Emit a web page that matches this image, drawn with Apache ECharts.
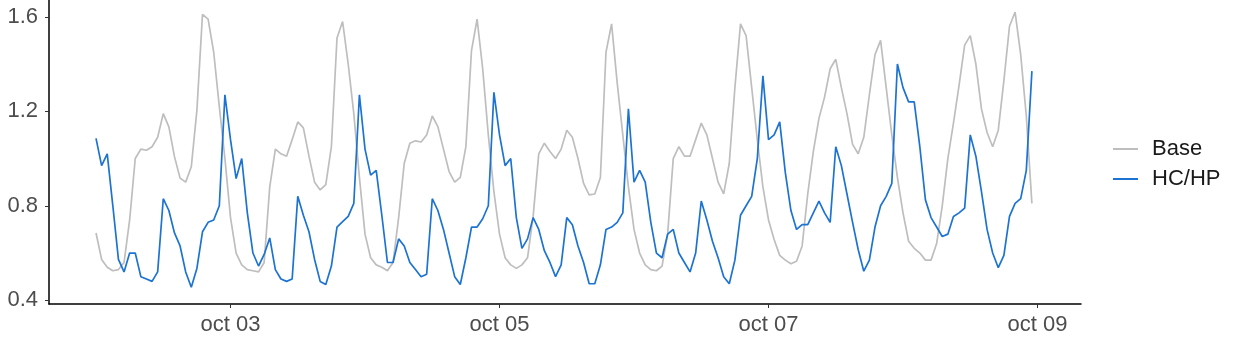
<!DOCTYPE html>
<html>
<head>
<meta charset="utf-8">
<script src="https://cdn.jsdelivr.net/npm/echarts@6/dist/echarts.min.js"></script>
<style>
  html, body { margin: 0; padding: 0; background: #fff; }
  #chart { width: 1245px; height: 344px; }
</style>
</head>
<body>
<div id="chart"></div>
<script>
// hourly values, hour 0 = oct 02 00:00
var baseValues = [
    0.685, 0.573, 0.54, 0.525, 0.53, 0.56, 0.74, 1.0, 1.04, 1.035, 1.05, 1.09, 1.19, 1.134, 1.008, 0.917, 0.90, 0.965, 1.204, 1.61, 1.59, 1.45, 1.22, 1.0,
    0.75, 0.60, 0.55, 0.53, 0.525, 0.52, 0.56, 0.88, 1.04, 1.02, 1.01, 1.08, 1.155, 1.13, 1.01, 0.90, 0.867, 0.89, 1.05, 1.51, 1.58, 1.40, 1.19, 0.92,
    0.68, 0.58, 0.55, 0.54, 0.525, 0.56, 0.75, 0.98, 1.065, 1.075, 1.07, 1.10, 1.18, 1.135, 1.04, 0.945, 0.90, 0.92, 1.05, 1.457, 1.59, 1.38, 1.10, 0.86,
    0.68, 0.58, 0.55, 0.535, 0.55, 0.58, 0.755, 1.02, 1.065, 1.03, 1.0, 1.04, 1.12, 1.09, 1.0, 0.895, 0.846, 0.85, 0.92, 1.45, 1.57, 1.32, 1.10, 0.88,
    0.70, 0.60, 0.55, 0.53, 0.525, 0.545, 0.68, 1.0, 1.05, 1.01, 1.01, 1.08, 1.15, 1.10, 1.0, 0.90, 0.85, 0.98, 1.30, 1.57, 1.52, 1.30, 1.08, 0.88,
    0.74, 0.657, 0.59, 0.57, 0.555, 0.565, 0.63, 0.85, 1.03, 1.17, 1.26, 1.38, 1.42, 1.30, 1.19, 1.06, 1.02, 1.09, 1.27, 1.44, 1.50, 1.30, 1.10, 0.92,
    0.77, 0.65, 0.62, 0.60, 0.57, 0.57, 0.64, 0.80, 1.0, 1.15, 1.31, 1.48, 1.52, 1.40, 1.21, 1.11, 1.05, 1.12, 1.33, 1.56, 1.62, 1.44, 1.18, 0.81
];
var hchpValues = [
    1.085, 0.97, 1.02, 0.80, 0.573, 0.52, 0.60, 0.60, 0.50, 0.49, 0.48, 0.52, 0.83, 0.78, 0.685, 0.63, 0.52, 0.455, 0.535, 0.69, 0.73, 0.74, 0.80, 1.27,
    1.08, 0.915, 1.0, 0.77, 0.60, 0.545, 0.594, 0.664, 0.53, 0.49, 0.48, 0.49, 0.84, 0.76, 0.69, 0.573, 0.48, 0.467, 0.545, 0.71, 0.733, 0.755, 0.81, 1.27,
    1.04, 0.93, 0.95, 0.76, 0.56, 0.56, 0.66, 0.63, 0.56, 0.53, 0.50, 0.51, 0.83, 0.78, 0.70, 0.60, 0.50, 0.467, 0.58, 0.71, 0.71, 0.745, 0.80, 1.28,
    1.10, 0.97, 1.0, 0.75, 0.62, 0.66, 0.75, 0.70, 0.61, 0.56, 0.50, 0.55, 0.75, 0.72, 0.63, 0.56, 0.47, 0.47, 0.55, 0.70, 0.71, 0.73, 0.77, 1.21,
    0.90, 0.95, 0.90, 0.73, 0.60, 0.58, 0.68, 0.70, 0.60, 0.56, 0.52, 0.60, 0.82, 0.74, 0.65, 0.58, 0.50, 0.47, 0.57, 0.76, 0.80, 0.84, 1.0, 1.35,
    1.08, 1.10, 1.155, 0.94, 0.78, 0.70, 0.72, 0.72, 0.77, 0.82, 0.77, 0.73, 1.05, 0.97, 0.85, 0.73, 0.615, 0.523, 0.57, 0.71, 0.80, 0.84, 0.895, 1.40,
    1.30, 1.24, 1.24, 1.05, 0.825, 0.75, 0.71, 0.67, 0.68, 0.755, 0.77, 0.79, 1.10, 1.01, 0.86, 0.70, 0.60, 0.538, 0.59, 0.755, 0.81, 0.83, 0.95, 1.37
];
var seriesNames = ['Base', 'HC/HP'];
var seriesColors = ['#BEBEBE', '#1C73D2'];
var xTickHours = [24, 72, 120, 168];
var xTickLabels = ['oct 03', 'oct 05', 'oct 07', 'oct 09'];
var yTicks = [0.4, 0.8, 1.2, 1.6];

function toPoints(vals) {
    return vals.map(function (v, i) { return [i, v]; });
}

var chart = echarts.init(document.getElementById('chart'));

var option = {
    animation: false,
    grid: { left: 49, right: 164, top: 0, bottom: 40 },
    legend: {
        orient: 'vertical',
        left: 1113,
        top: 138,
        padding: 0,
        icon: 'rect',
        itemWidth: 25,
        itemHeight: 2,
        itemGap: 8,
        textStyle: { fontSize: 22, color: '#1a1a1a', fontFamily: 'Liberation Sans', padding: [0, 0, 0, 9] },
        data: seriesNames
    },
    xAxis: {
        type: 'value',
        min: -8.39,
        max: 175.76,
        splitLine: { show: false },
        axisLine: { onZero: false, lineStyle: { color: '#000', width: 1.5 } },
        axisTick: { customValues: xTickHours, length: 4, lineStyle: { color: '#333' } },
        axisLabel: {
            customValues: xTickHours,
            margin: 10,
            fontSize: 22,
            color: '#4d4d4d',
            fontFamily: 'Liberation Sans',
            formatter: function (v) { return xTickLabels[xTickHours.indexOf(v)]; }
        }
    },
    yAxis: {
        type: 'value',
        min: 0.3843,
        max: 1.671,
        splitLine: { show: false },
        axisLine: { show: true, onZero: false, lineStyle: { color: '#000', width: 1.5 } },
        axisTick: { show: true, customValues: yTicks, length: 4, lineStyle: { color: '#333' } },
        axisLabel: {
            customValues: yTicks,
            margin: 11,
            fontSize: 22,
            color: '#4d4d4d',
            fontFamily: 'Liberation Sans',
            formatter: function (v) { return v.toFixed(1); }
        }
    },
    series: [
        {
            name: seriesNames[0],
            type: 'line',
            symbol: 'none',
            color: seriesColors[0],
            lineStyle: { width: 1.7 },
            data: toPoints(baseValues)
        },
        {
            name: seriesNames[1],
            type: 'line',
            symbol: 'none',
            color: seriesColors[1],
            lineStyle: { width: 1.7 },
            data: toPoints(hchpValues)
        }
    ]
};

chart.setOption(option);
</script>
</body>
</html>
